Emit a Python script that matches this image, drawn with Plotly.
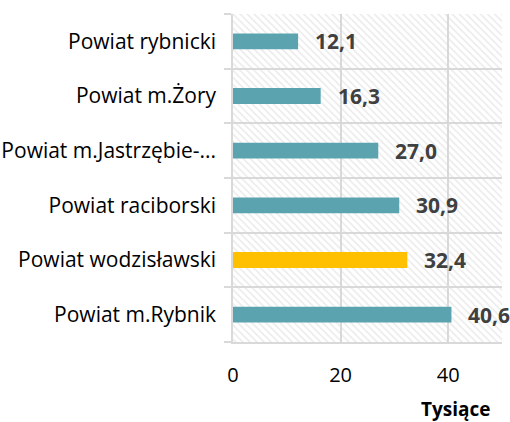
import plotly.graph_objects as go

categories = ["Powiat m.Rybnik", "Powiat wodzisławski", "Powiat raciborski",
              "Powiat m.Jastrzębie-...", "Powiat m.Żory", "Powiat rybnicki"]
values = [40.6, 32.4, 30.9, 27.0, 16.3, 12.1]
labels = ["40,6", "32,4", "30,9", "27,0", "16,3", "12,1"]
highlight = "Powiat wodzisławski"
x_ticks = [0, 20, 40]
x_max = 50
axis_title = "Tysiące"

TEAL = "#5BA3AE"
GOLD = "#FFC000"
GRID = "#D9D9D9"
FONT = "Open Sans"

colors = [GOLD if c == highlight else TEAL for c in categories]

fig = go.Figure()
# hatched background
fig.add_trace(go.Bar(
    y=categories, x=[x_max] * len(categories), orientation="h", width=1,
    marker=dict(color="rgba(0,0,0,0)", line=dict(width=0),
                pattern=dict(shape="\\", fgcolor="#D6D6D6", bgcolor="rgba(0,0,0,0)",
                             size=5, solidity=0.3, fillmode="overlay")),
    hoverinfo="skip", showlegend=False))
fig.add_trace(go.Bar(
    y=categories, x=values, orientation="h", width=0.29,
    marker=dict(color=colors, line=dict(width=0)),
    showlegend=False))

for c, v, t in zip(categories, values, labels):
    fig.add_annotation(x=v, y=c, text="<b>%s</b>" % t, showarrow=False,
                       xanchor="left", xshift=15,
                       font=dict(family=FONT, size=21, color="#404040"))

fig.add_annotation(xref="paper", yref="paper", x=1, y=0, yshift=-52, xshift=-9,
                   xanchor="right", yanchor="top", showarrow=False,
                   text="<b>%s</b>" % axis_title,
                   font=dict(family=FONT, size=19, color="#000000"))

fig.update_layout(
    width=510, height=422,
    margin=dict(l=233, r=8, t=14, b=80),
    paper_bgcolor="white", plot_bgcolor="white",
    barmode="overlay",
    font=dict(family=FONT, size=21, color="#000000"),
    xaxis=dict(range=[0, x_max], tickvals=x_ticks, showgrid=True, gridcolor=GRID,
               gridwidth=1.5, zeroline=False, showline=True, linecolor=GRID,
               linewidth=1.5, ticks="", ticklabelstandoff=14, automargin=False,
               tickfont=dict(family=FONT, size=20, color="#000000")),
    yaxis=dict(showgrid=True, gridcolor=GRID, gridwidth=1.5, tickson="boundaries",
               ticks="outside", ticklen=7, tickcolor=GRID, tickwidth=1.5,
               showline=True, linecolor=GRID, linewidth=1.5, automargin=False,
               ticklabelstandoff=11,
               tickfont=dict(family=FONT, size=21, color="#000000")),
)

fig.write_html("out.html", config={"displayModeBar": False},
               post_script="document.body.style.margin='0';")
